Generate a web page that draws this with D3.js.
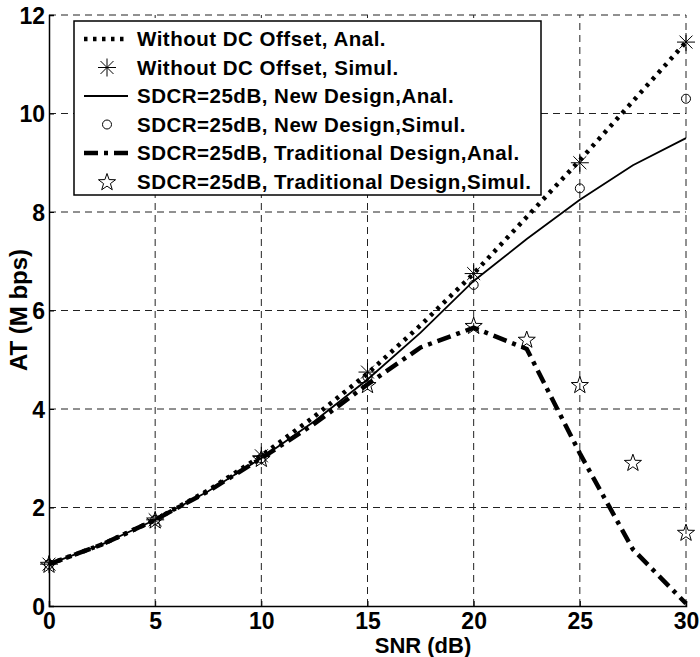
<!DOCTYPE html>
<html>
<head>
<meta charset="utf-8">
<script src="https://cdn.jsdelivr.net/npm/d3@7"></script>
<style>
  body { margin: 0; background: #fff; }
  text { font-family: "Liberation Sans", Arial, Helvetica, sans-serif; font-weight: bold; }
</style>
</head>
<body>
<div id="chart"></div>
<script>
const width = 700;
const height = 657;

// analytical curves, sampled every 2.5 dB
const snrAnal = [0, 2.5, 5, 7.5, 10, 12.5, 15, 17.5, 20, 22.5, 25, 27.5, 30];
const noDcAnal = [0.85, 1.25, 1.75, 2.35, 3.05, 3.85, 4.72, 5.7, 6.75, 7.9, 9.05, 10.25, 11.45];
const newAnal = [0.85, 1.25, 1.75, 2.33, 3.0, 3.75, 4.6, 5.55, 6.6, 7.45, 8.25, 8.95, 9.5];
const tradAnal = [0.85, 1.25, 1.75, 2.33, 3.0, 3.7, 4.5, 5.25, 5.65, 5.22, 3.1, 1.15, 0.05];

// simulation points
const snrSim = [0, 5, 10, 15, 20, 25, 30];
const noDcSim = [0.85, 1.75, 3.05, 4.75, 6.75, 9.0, 11.45];
const newSim = [0.85, 1.75, 3.0, 4.65, 6.52, 8.48, 10.3];
const snrTradSim = [0, 5, 10, 15, 20, 22.5, 25, 27.5, 30];
const tradSim = [0.85, 1.75, 3.0, 4.5, 5.7, 5.42, 4.5, 2.92, 1.5];

const xTicks = [0, 5, 10, 15, 20, 25, 30];
const yTicks = [0, 2, 4, 6, 8, 10, 12];

const legendLabels = [
  'Without DC Offset, Anal.',
  'Without DC Offset, Simul.',
  'SDCR=25dB, New Design,Anal.',
  'SDCR=25dB, New Design,Simul.',
  'SDCR=25dB, Traditional Design,Anal.',
  'SDCR=25dB, Traditional Design,Simul.'
];

const margin = {left: 49, right: 14, top: 15, bottom: 51};

const x = d3.scaleLinear()
  .domain([0, 30])
  .range([margin.left, width - margin.right]);

const y = d3.scaleLinear()
  .domain([0, 12])
  .range([height - margin.bottom, margin.top]);

const svg = d3.select('#chart').append('svg')
  .attr('width', width)
  .attr('height', height);

// grid
const grid = svg.append('g')
  .attr('stroke', '#222')
  .attr('stroke-width', 1)
  .attr('stroke-dasharray', '7,5');

grid.selectAll('line.v')
  .data(xTicks.slice(1))
  .enter().append('line')
    .attr('x1', d => x(d)).attr('x2', d => x(d))
    .attr('y1', y(0)).attr('y2', y(12));

grid.selectAll('line.h')
  .data(yTicks.slice(1))
  .enter().append('line')
    .attr('x1', x(0)).attr('x2', x(30))
    .attr('y1', d => y(d)).attr('y2', d => y(d));

// axes
const xAxis = svg.append('g')
  .attr('transform', `translate(0,${y(0)})`)
  .call(d3.axisBottom(x).tickValues(xTicks).tickSize(-5).tickPadding(10));

const yAxis = svg.append('g')
  .attr('transform', `translate(${x(0)},0)`)
  .call(d3.axisLeft(y).tickValues(yTicks).tickSize(-5).tickPadding(4));

[xAxis, yAxis].forEach(a => {
  a.select('.domain').attr('stroke', '#000').attr('stroke-width', 1.5);
  a.selectAll('.tick line').attr('stroke', '#000');
  a.selectAll('.tick text')
    .attr('fill', '#000')
    .style('font-size', '23px')
    .style('font-family', '"Liberation Sans", Arial, sans-serif')
    .style('font-weight', 'bold');
});
xAxis.selectAll('.tick text').attr('dy', '0.55em');
yAxis.selectAll('.tick text').attr('dy', '0.36em');

svg.append('text')
  .attr('x', 423)
  .attr('y', 653)
  .attr('text-anchor', 'middle')
  .style('font-size', '22px')
  .text('SNR (dB)');

svg.append('text')
  .attr('transform', `translate(27,${310}) rotate(-90)`)
  .attr('text-anchor', 'middle')
  .style('font-size', '24px')
  .text('AT (M bps)');

// marker paths
function asteriskPath(r) {
  const a = r * 0.72;
  return `M${-r},0L${r},0M0,${-r}L0,${r}M${-a},${-a}L${a},${a}M${-a},${a}L${a},${-a}`;
}
function starPath(ro, ri) {
  let p = '';
  for (let i = 0; i < 10; i++) {
    const r = i % 2 === 0 ? ro : ri;
    const ang = -Math.PI / 2 + i * Math.PI / 5;
    p += (i === 0 ? 'M' : 'L') + (r * Math.cos(ang)).toFixed(2) + ',' + (r * Math.sin(ang)).toFixed(2);
  }
  return p + 'Z';
}

const styles = {
  dotted: {width: 4.5, dash: '3.5,5.5'},
  solid: {width: 1.8, dash: null},
  dashdot: {width: 4.5, dash: '14,6,4,6'}
};

const line = d3.line()
  .x(d => x(d[0]))
  .y(d => y(d[1]));

const plot = svg.append('g');

function drawLine(xs, ys, st) {
  plot.append('path')
    .datum(xs.map((v, i) => [v, ys[i]]))
    .attr('d', line)
    .attr('fill', 'none')
    .attr('stroke', '#000')
    .attr('stroke-width', st.width)
    .attr('stroke-dasharray', st.dash);
}

function drawMarkers(xs, ys, kind) {
  const g = plot.append('g');
  xs.forEach((v, i) => {
    const px = x(v), py = y(ys[i]);
    if (kind === 'asterisk') {
      g.append('path').attr('d', asteriskPath(9)).attr('transform', `translate(${px},${py})`)
        .attr('stroke', '#000').attr('stroke-width', 1).attr('fill', 'none');
    } else if (kind === 'circle') {
      g.append('circle').attr('cx', px).attr('cy', py).attr('r', 4.5)
        .attr('stroke', '#000').attr('stroke-width', 1).attr('fill', 'none');
    } else {
      g.append('path').attr('d', starPath(9, 3.6)).attr('transform', `translate(${px},${py + 1})`)
        .attr('stroke', '#000').attr('stroke-width', 1).attr('fill', 'none');
    }
  });
}

drawLine(snrAnal, noDcAnal, styles.dotted);
drawMarkers(snrSim, noDcSim, 'asterisk');
drawLine(snrAnal, newAnal, styles.solid);
drawMarkers(snrSim, newSim, 'circle');
drawLine(snrAnal, tradAnal, styles.dashdot);
drawMarkers(snrTradSim, tradSim, 'star');

// legend
const legend = svg.append('g');
const lgX = 74, lgY = 21, lgW = 467, lgH = 174, rowH = 28.5;

legend.append('rect')
  .attr('x', lgX).attr('y', lgY).attr('width', lgW).attr('height', lgH)
  .attr('fill', '#fff').attr('stroke', '#000').attr('stroke-width', 1.5);

const legendKinds = [
  {line: styles.dotted}, {marker: 'asterisk'},
  {line: styles.solid}, {marker: 'circle'},
  {line: styles.dashdot}, {marker: 'star'}
];

legendLabels.forEach((lab, i) => {
  const cy = lgY + 18 + i * rowH;
  const k = legendKinds[i];
  if (k.line) {
    legend.append('line')
      .attr('x1', 84).attr('x2', 128).attr('y1', cy).attr('y2', cy)
      .attr('stroke', '#000').attr('stroke-width', k.line.width)
      .attr('stroke-dasharray', k.line.dash);
  } else {
    const px = 107;
    if (k.marker === 'asterisk') {
      legend.append('path').attr('d', asteriskPath(9)).attr('transform', `translate(${px},${cy})`)
        .attr('stroke', '#000').attr('fill', 'none');
    } else if (k.marker === 'circle') {
      legend.append('circle').attr('cx', px).attr('cy', cy).attr('r', 4.5)
        .attr('stroke', '#000').attr('fill', 'none');
    } else {
      legend.append('path').attr('d', starPath(9, 3.6)).attr('transform', `translate(${px},${cy + 1})`)
        .attr('stroke', '#000').attr('fill', 'none');
    }
  }
  legend.append('text')
    .attr('x', 137).attr('y', cy)
    .attr('dy', '0.36em')
    .style('font-size', '20.5px')
    .style('letter-spacing', '0.5px')
    .text(lab);
});
</script>
</body>
</html>
